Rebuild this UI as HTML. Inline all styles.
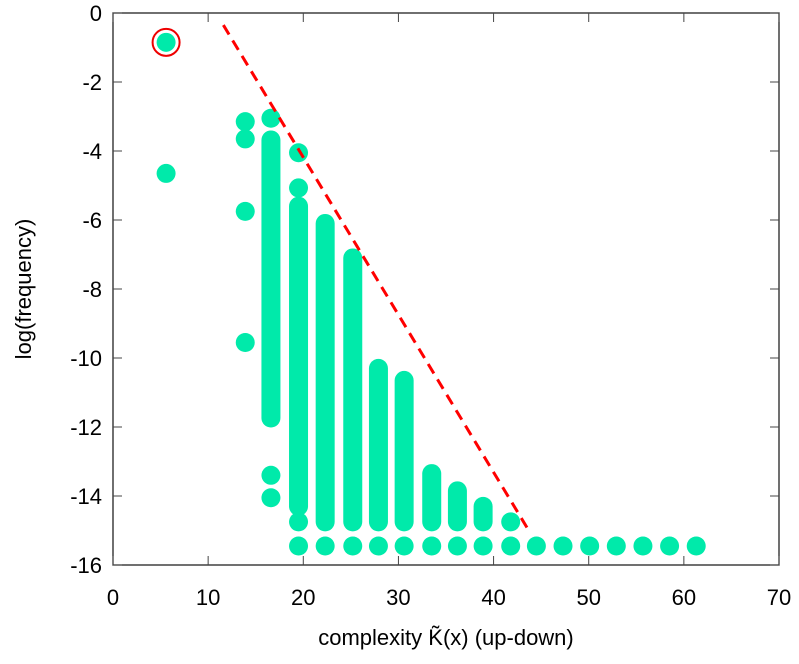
<!DOCTYPE html>
<html><head><meta charset="utf-8">
<style>
html,body{margin:0;padding:0;background:#fff;}
svg{display:block;font-family:"Liberation Sans",sans-serif;}
</style></head>
<body>
<svg id="chart" width="799" height="664" viewBox="0 0 799 664">
  <g id="marks"></g>
  <g id="axes"></g>
</svg>
<script>
// Dense columns: x position, top value, bottom value
const colX  = [16.6, 19.5, 22.3, 25.2, 27.9, 30.6, 33.5, 36.2, 38.9];
const colHi = [-3.68, -5.6, -6.1, -7.1, -10.3, -10.65, -13.35, -13.85, -14.3];
const colLo = [-11.74, -14.3, -14.75, -14.75, -14.75, -14.75, -14.75, -14.75, -14.75];
// Isolated points
const ptX = [5.58, 5.58, 13.9, 13.9, 13.9, 13.9, 16.6, 16.6, 16.6, 19.5, 19.5, 19.5, 41.8,
             19.5, 22.3, 25.2, 27.9, 30.6, 33.5, 36.2, 38.9, 41.8, 44.5, 47.3, 50.1, 52.9, 55.7, 58.5, 61.3];
const ptY = [-0.85, -4.65, -3.15, -3.65, -5.75, -9.55, -3.05, -13.4, -14.05, -4.05, -5.07, -14.75, -14.75,
             -15.45, -15.45, -15.45, -15.45, -15.45, -15.45, -15.45, -15.45, -15.45, -15.45, -15.45, -15.45, -15.45, -15.45, -15.45, -15.45];
const highlightX = [5.58];
const highlightY = [-0.85];
const boundX = [11.6, 43.7];
const boundY = [-0.35, -15.0];
const xTicks = [0, 10, 20, 30, 40, 50, 60, 70];
const yTicks = [0, -2, -4, -6, -8, -10, -12, -14, -16];

const L = 113, R = 779, T = 13, B = 565;
const xs = v => L + (v - 0) / 70 * (R - L);
const ys = v => T + (0 - v) / 16 * (B - T);
const NS = "http://www.w3.org/2000/svg";
const marks = document.getElementById('marks');
const axes = document.getElementById('axes');
const COLOR = "#00eaaa";
function mk(tag, attrs, parent) {
  const e = document.createElementNS(NS, tag);
  for (const k in attrs) e.setAttribute(k, attrs[k]);
  parent.appendChild(e);
  return e;
}
colX.forEach((x, i) => {
  const c = mk('rect', {x: xs(x) - 9.5, y: ys(colHi[i]) - 9.5, width: 19, height: ys(colLo[i]) - ys(colHi[i]) + 19, rx: 9.5, ry: 9.5, fill: COLOR}, marks);
  
  
});
ptX.forEach((x, i) => {
  const c = mk('circle', {cx: xs(x), cy: ys(ptY[i]), r: 9.5, fill: COLOR}, marks);
  
  
});
highlightX.forEach((x, i) => {
  const c = mk('circle', {cx: xs(x), cy: ys(highlightY[i]), r: 13.5, fill: 'none', stroke: '#e00', 'stroke-width': 2}, marks);
  
  
});
const ln = mk('line', {x1: xs(boundX[0]), y1: ys(boundY[0]), x2: xs(boundX[1]), y2: ys(boundY[1]), stroke: '#f00', 'stroke-width': 3, 'stroke-dasharray': '11,7'}, marks);



const fr = mk('rect', {x: L, y: T, width: R - L, height: B - T, fill: 'none', stroke: '#222', 'stroke-width': 1.3}, axes);


xTicks.forEach(v => {
  const x = xs(v);
  mk('line', {x1: x, y1: B, x2: x, y2: B - 9, stroke: '#444'}, axes);
  mk('line', {x1: x, y1: T, x2: x, y2: T + 9, stroke: '#444'}, axes);
  const t = mk('text', {x: x, y: B + 40, 'text-anchor': 'middle', 'font-size': 22, fill: '#000'}, axes);
  t.textContent = v;
  
  
});
yTicks.forEach(v => {
  const y = ys(v);
  mk('line', {x1: L, y1: y, x2: L + 9, y2: y, stroke: '#444'}, axes);
  mk('line', {x1: R, y1: y, x2: R - 9, y2: y, stroke: '#444'}, axes);
  const t = mk('text', {x: L - 11, y: y + 8, 'text-anchor': 'end', 'font-size': 22, fill: '#000'}, axes);
  t.textContent = v;
  
  
});
const xt = mk('text', {x: (L + R) / 2, y: 645, 'text-anchor': 'middle', 'font-size': 22, fill: '#000'}, axes);
xt.textContent = 'complexity K\u0303(x) (up-down)';


const yt = mk('text', {x: 0, y: 0, 'text-anchor': 'middle', 'font-size': 22, fill: '#000', transform: `translate(31,${(T + B) / 2}) rotate(-90)`}, axes);
yt.textContent = 'log(frequency)';


</script>
</body></html>
